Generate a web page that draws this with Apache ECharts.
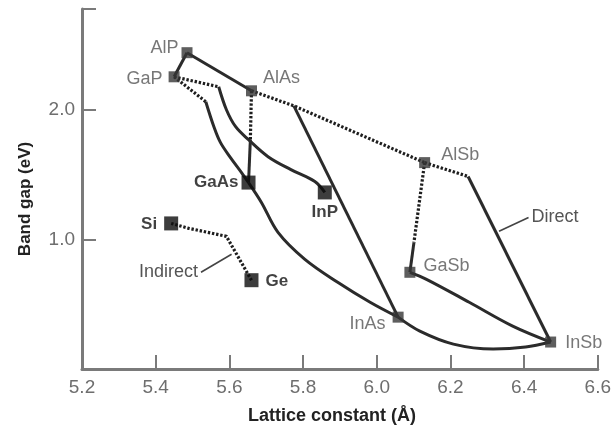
<!DOCTYPE html>
<html>
<head>
<meta charset="utf-8">
<script src="https://cdn.jsdelivr.net/npm/echarts@6/dist/echarts.min.js"></script>
<style>
  html, body { margin: 0; padding: 0; background: #fff; }
  #chart { width: 614px; height: 430px; }
</style>
</head>
<body>
<div id="chart"></div>
<script>
// Semiconductor compounds: lattice constant (Å) and band gap (eV)
const compounds = ['AlP', 'GaP', 'AlAs', 'GaAs', 'InP', 'AlSb', 'GaSb', 'InAs', 'InSb', 'Si', 'Ge'];
const latticeConst = [5.485, 5.45, 5.66, 5.652, 5.859, 6.13, 6.09, 6.058, 6.472, 5.442, 5.66];
const bandGapEv = [2.44, 2.254, 2.146, 1.438, 1.362, 1.592, 0.746, 0.40, 0.208, 1.123, 0.685];

// Axis ticks
const xTicks = [5.2, 5.4, 5.6, 5.8, 6.0, 6.2, 6.4, 6.6];
const yTickLabels = [1.0, 2.0];

// Alloy tie lines: solid = direct gap, dotted = indirect gap
const solidAlPAlAs = [[5.485, 2.44], [5.66, 2.146]];
const solidAlPGaP = [[5.485, 2.44], [5.45, 2.254]];
const dotGaPGaAs = [[5.45, 2.254], [5.536, 2.062]];
const solidGaPGaAs = [[5.536, 2.062], [5.558, 1.869], [5.576, 1.746], [5.603, 1.631], [5.633, 1.515], [5.652, 1.438]];
const dotGaPInP = [[5.45, 2.254], [5.571, 2.177]];
const solidGaPInP = [[5.571, 2.177], [5.592, 2.0], [5.617, 1.869], [5.652, 1.769], [5.705, 1.638], [5.767, 1.538], [5.832, 1.446], [5.859, 1.362]];
const dotAlAsGaAs = [[5.66, 2.146], [5.657, 1.769]];
const solidAlAsGaAs = [[5.657, 1.769], [5.652, 1.438]];
const dotAlAsAlSb = [[5.66, 2.146], [5.775, 2.03], [6.13, 1.592]];
const solidAlAsInAs = [[5.775, 2.03], [6.058, 0.40]];
const solidGaAsInAs = [[5.652, 1.438], [5.687, 1.285], [5.732, 1.054], [5.805, 0.846], [5.894, 0.669], [5.982, 0.515], [6.058, 0.40]];
const dotAlSbInSb = [[6.13, 1.592], [6.248, 1.485]];
const solidAlSbInSb = [[6.248, 1.485], [6.472, 0.208]];
const dotAlSbGaSb = [[6.13, 1.592], [6.101, 0.977]];
const solidAlSbGaSb = [[6.101, 0.977], [6.09, 0.746]];
const solidGaSbInSb = [[6.09, 0.746], [6.135, 0.692], [6.251, 0.515], [6.369, 0.331], [6.472, 0.208]];
const solidInAsInSb = [[6.058, 0.40], [6.117, 0.292], [6.208, 0.192], [6.316, 0.154], [6.404, 0.169], [6.472, 0.208]];
const dotSiGe = [[5.442, 1.123], [5.49, 1.085], [5.592, 1.023], [5.66, 0.685]];

// Callout leaders
const leaderIndirect = [[5.523, 0.746], [5.606, 0.885]];
const leaderDirect = [[6.332, 1.062], [6.412, 1.169]];

const FONT = 'Liberation Sans, Arial, sans-serif';
const LINE_COLOR = '#2b2b2b';

const boldNames = ['GaAs', 'InP', 'Si', 'Ge'];
const labelPlacement = {
  AlP:  { position: 'left',   distance: 3,  offset: [0, -5] },
  GaP:  { position: 'left',   distance: 6,  offset: [0, 2] },
  AlAs: { position: 'right',  distance: 6,  offset: [0, -13] },
  GaAs: { position: 'left',   distance: 3,  offset: [0, 0] },
  InP:  { position: 'bottom', distance: 4,  offset: [0, 0] },
  AlSb: { position: 'right',  distance: 11, offset: [0, -8] },
  GaSb: { position: 'right',  distance: 8,  offset: [0, -6] },
  InAs: { position: 'left',   distance: 7,  offset: [0, 7] },
  InSb: { position: 'right',  distance: 9,  offset: [0, 1] },
  Si:   { position: 'left',   distance: 7,  offset: [0, 1] },
  Ge:   { position: 'right',  distance: 7,  offset: [0, 1] }
};

function tieLine(data, dotted, smooth) {
  return {
    type: 'line',
    data: data,
    showSymbol: false,
    symbol: 'none',
    smooth: smooth ? 0.35 : false,
    silent: true,
    z: 2,
    lineStyle: {
      color: dotted ? '#1e1e1e' : LINE_COLOR,
      width: dotted ? 3.2 : 3,
      type: dotted ? [2.4, 1.8] : 'solid',
      cap: 'butt',
      join: 'round'
    }
  };
}

function leader(data, text, atEnd) {
  const last = data.length - 1;
  return {
    type: 'line',
    data: data.map((p, i) => {
      const item = { value: p };
      if ((atEnd && i === last) || (!atEnd && i === 0)) {
        item.label = {
          show: true,
          formatter: text,
          position: atEnd ? 'right' : 'left',
          distance: 3,
          fontFamily: FONT,
          fontSize: 18,
          color: '#555'
        };
      }
      return item;
    }),
    symbol: 'circle',
    symbolSize: 0.1,
    showSymbol: true,
    silent: true,
    z: 2,
    lineStyle: { color: '#444', width: 1.6 }
  };
}

const squares = compounds.map((name, i) => {
  const bold = boldNames.includes(name);
  const pl = labelPlacement[name];
  return {
    name: name,
    value: [latticeConst[i], bandGapEv[i]],
    symbolSize: bold ? 14 : 11,
    itemStyle: { color: bold ? '#0d0d0d' : '#363636' },
    label: {
      show: true,
      formatter: name,
      position: pl.position,
      distance: pl.distance,
      offset: pl.offset,
      fontFamily: FONT,
      fontSize: bold ? 17 : 18,
      fontWeight: bold ? 'bold' : 'normal',
      color: bold ? '#111' : '#555'
    }
  };
});

const chart = echarts.init(document.getElementById('chart'), null, { renderer: 'canvas' });

chart.setOption({
  animation: false,
  backgroundColor: '#fff',
  grid: { left: 82, right: 11, top: 9, bottom: 60, containLabel: false },
  xAxis: {
    type: 'value',
    min: xTicks[0],
    max: xTicks[xTicks.length - 1],
    interval: 0.2,
    name: 'Lattice constant (Å)',
    nameLocation: 'middle',
    nameGap: 38,
    nameTextStyle: {
      fontFamily: FONT, fontSize: 18, fontWeight: 'bold', color: '#222',
      padding: [0, 16, 0, 0]
    },
    axisLine: { show: true, lineStyle: { color: '#7a7a7a', width: 3 } },
    axisTick: {
      show: true, inside: true, length: 14,
      customValues: xTicks.slice(1),
      lineStyle: { color: '#7a7a7a', width: 2 }
    },
    axisLabel: {
      fontFamily: FONT, fontSize: 19, color: '#6e6e6e', margin: 9,
      customValues: xTicks,
      formatter: v => v.toFixed(1)
    },
    splitLine: { show: false }
  },
  yAxis: {
    type: 'value',
    min: 0,
    max: 2.777,
    interval: 1,
    name: 'Band gap (eV)',
    nameLocation: 'middle',
    nameGap: 48,
    nameRotate: 90,
    nameTextStyle: {
      fontFamily: FONT, fontSize: 17, fontWeight: 'bold', color: '#222',
      padding: [0, 20, 0, 0]
    },
    axisLine: { show: true, lineStyle: { color: '#7a7a7a', width: 3 } },
    axisTick: {
      show: true, inside: true, length: 14,
      customValues: [1, 2, 2.777],
      lineStyle: { color: '#7a7a7a', width: 2 }
    },
    axisLabel: {
      fontFamily: FONT, fontSize: 19, color: '#6e6e6e', margin: 7,
      customValues: yTickLabels,
      formatter: v => v.toFixed(1)
    },
    splitLine: { show: false }
  },
  series: [
    tieLine(solidAlPAlAs, false, false),
    tieLine(solidAlPGaP, false, false),
    tieLine(dotGaPGaAs, true, false),
    tieLine(solidGaPGaAs, false, true),
    tieLine(dotGaPInP, true, false),
    tieLine(solidGaPInP, false, true),
    tieLine(dotAlAsGaAs, true, false),
    tieLine(solidAlAsGaAs, false, false),
    tieLine(dotAlAsAlSb, true, false),
    tieLine(solidAlAsInAs, false, false),
    tieLine(solidGaAsInAs, false, true),
    tieLine(dotAlSbInSb, true, false),
    tieLine(solidAlSbInSb, false, false),
    tieLine(dotAlSbGaSb, true, false),
    tieLine(solidAlSbGaSb, false, false),
    tieLine(solidGaSbInSb, false, true),
    tieLine(solidInAsInSb, false, true),
    tieLine(dotSiGe, true, false),
    leader(leaderIndirect, 'Indirect', false),
    leader(leaderDirect, 'Direct', true),
    {
      type: 'scatter',
      symbol: 'rect',
      data: squares,
      silent: true,
      z: 5
    }
  ]
});
</script>
</body>
</html>
